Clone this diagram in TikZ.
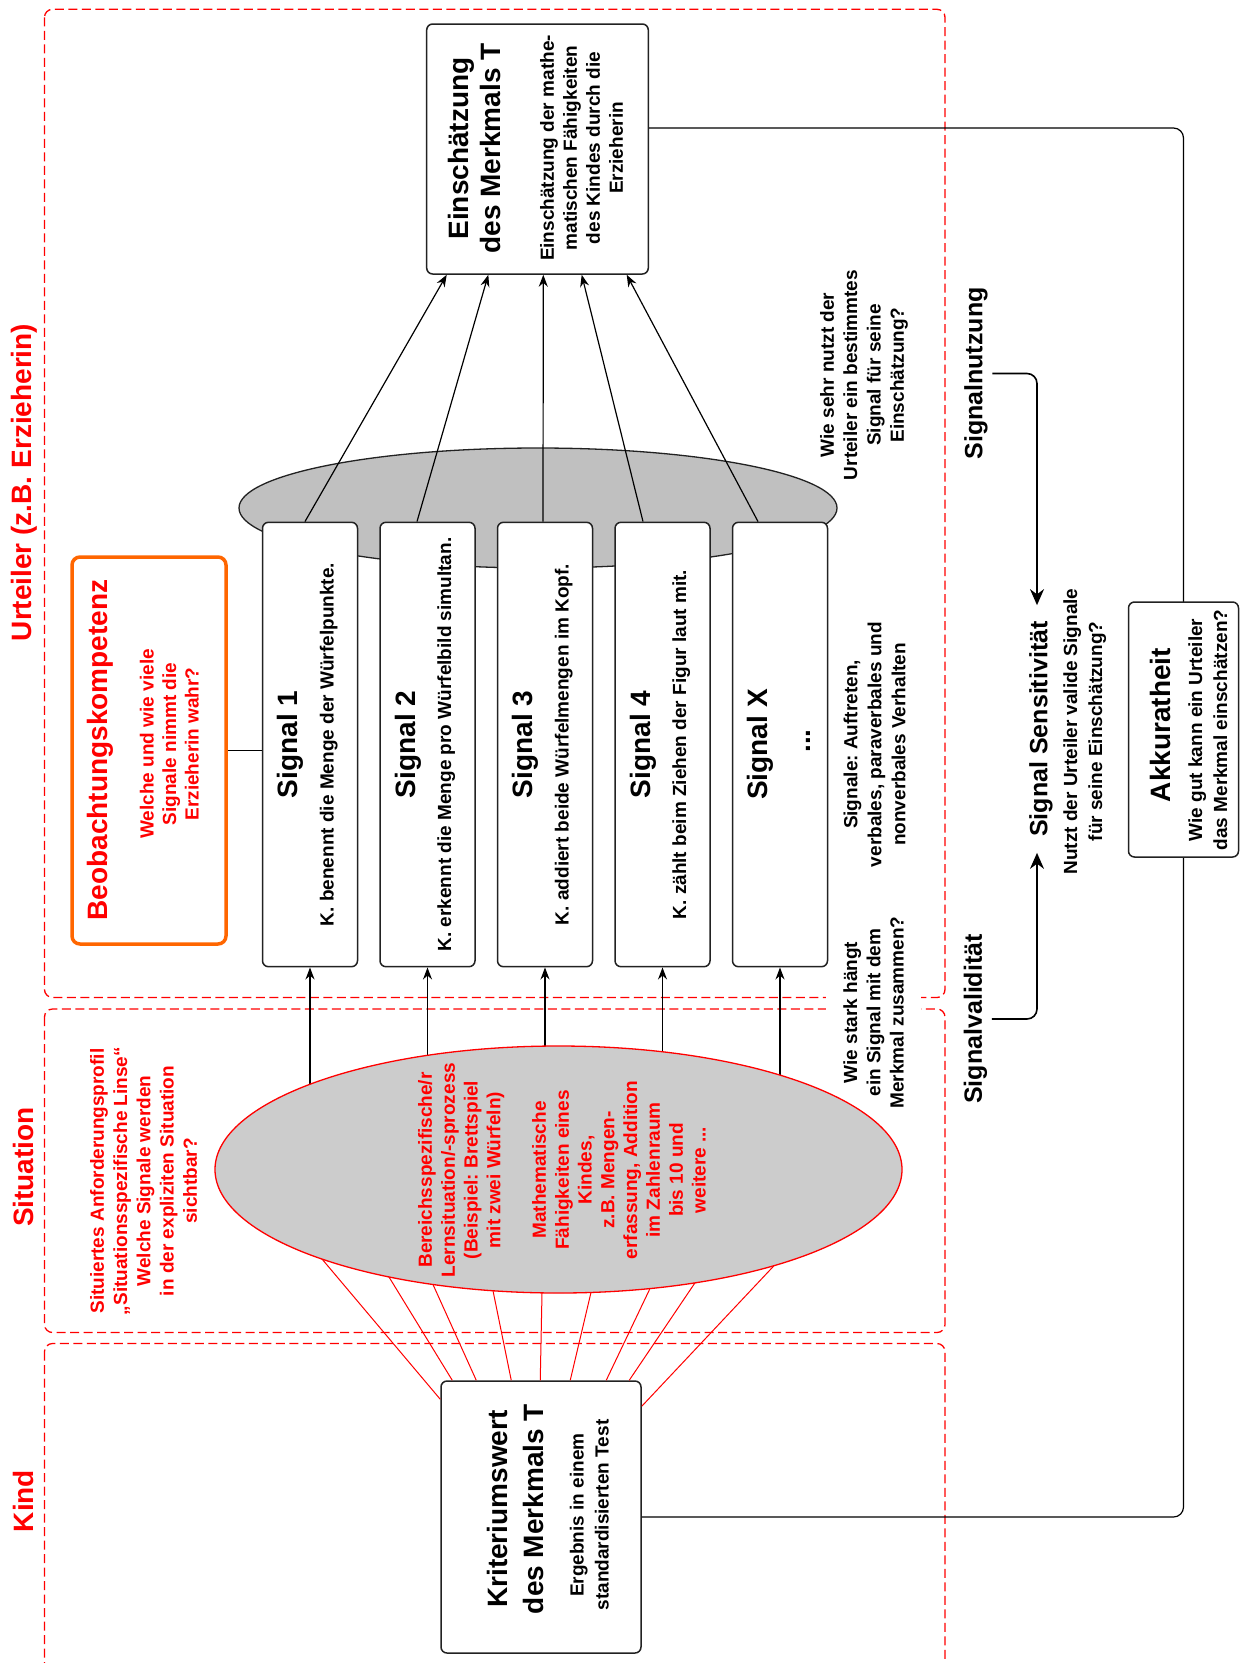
\documentclass[tikz,border=0pt]{standalone}
\usepackage{fontspec}
\setmainfont{Liberation Sans}
\usetikzlibrary{arrows.meta,shapes.geometric,calc}
\definecolor{zonered}{HTML}{FF0000}
\definecolor{textred}{HTML}{FF0000}
\definecolor{comporange}{HTML}{FF6600}
\definecolor{cuegray}{HTML}{C0C0C0}
\definecolor{sitgray}{HTML}{CCCCCC}
\definecolor{edge}{HTML}{222222}
\newcommand{\setfs}[2]{\fontsize{#1}{#2}\selectfont}
\frenchspacing
\begin{document}
\begin{tikzpicture}[x=1pt,y=-1pt,
  zone/.style={draw=zonered,line width=1.3pt,dash pattern=on 9pt off 4.5pt,rounded corners=8pt},
  card/.style={draw=edge,line width=1.5pt,fill=white,rounded corners=6pt,inner sep=0pt},
  vtext/.style={rotate=90,align=center,inner sep=0pt,execute at begin node=\frenchspacing},
  bigtxt/.style={vtext,font=\bfseries\setfs{28}{32}},
  midtxt/.style={vtext,font=\bfseries\setfs{25}{30}},
  smalltxt/.style={vtext,font=\bfseries\setfs{19}{#1}},
  smalltxt/.default=23,
  conn/.style={draw=black,line width=1.2pt},
  arrowline/.style={conn,-{Stealth[length=12pt,width=9pt]}},
  bigarrow/.style={draw=black,line width=1.6pt,rounded corners=10pt,-{Stealth[length=16pt,width=14pt]}},
  cueline/.style={draw=zonered,line width=1pt}
]
\useasboundingbox (0,0) rectangle (1243,1663);
\clip (0,0) rectangle (1243,1663);

% ---- the three zones ----
\draw[zone] (44.5,9.3) rectangle (945,997.5);
\draw[zone] (44.5,1009) rectangle (945,1332.5);
\draw[zone] (44.5,1343.5) rectangle (945,1720);

\node[bigtxt,text=textred] (hdU) at (24.5,482.5) {Urteiler (z.B. Erzieherin)};
\node[bigtxt,text=textred] (hdS) at (23,1167) {Situation};
\node[bigtxt,text=textred] (hdK) at (23,1501) {Kind};

% question sitting on the border between the zones
\node[smalltxt=23.3,fill=white,inner xsep=3pt,inner ysep=17.5pt] (qval) at (873.6,1012.5)
  {Wie stark hängt\\ein Signal mit dem\\Merkmal zusammen?};

% ---- cue ellipse and signal cards ----
\node[ellipse,draw=edge,fill=cuegray,line width=1.3pt,minimum width=598pt,minimum height=120pt,inner sep=0pt] (cue) at (538,508) {};
\foreach \i/\x in {1/310,2/427.5,3/545,4/662.5,X/780}
  \node[card,minimum width=95pt,minimum height=444.4pt] (s\i) at (\x,744.5) {};

\node[bigtxt] (s1h) at ($(s1.center)+(-19.2,0)$) {Signal 1};
\node[bigtxt] (s2h) at ($(s2.center)+(-19.2,0)$) {Signal 2};
\node[bigtxt] (s3h) at ($(s3.center)+(-19.2,0)$) {Signal 3};
\node[bigtxt] (s4h) at ($(s4.center)+(-19.2,0)$) {Signal 4};
\node[bigtxt] (sXh) at ($(sX.center)+(-19.2,0)$) {Signal X};
\node[smalltxt] (s1b) at ($(s1.center)+(18.7,0)$) {K. benennt die Menge der Würfelpunkte.};
\node[smalltxt] (s2b) at ($(s2.center)+(18.7,0)$) {K. erkennt die Menge pro Würfelbild simultan.};
\node[smalltxt] (s3b) at ($(s3.center)+(18.7,0)$) {K. addiert beide Würfelmengen im Kopf.};
\node[smalltxt] (s4b) at ($(s4.center)+(18.7,0)$) {K. zählt beim Ziehen der Figur laut mit.};
\node[bigtxt] (sXb) at ($(sX.center)+(28,-3.5)$) {...};

% ---- judgement box ----
\node[card,minimum width=221.6pt,minimum height=250pt] (E) at (537.5,149) {};
\node[bigtxt] (Eh) at (474,148.5) {Einschätzung\\des Merkmals T};
\node[smalltxt] (Eb) at (581.5,148) {Einschätzung der mathe-\\matischen Fähigkeiten\\des Kindes durch die\\Erzieherin};

\draw[arrowline] ($(s1.north)+(-5,0)$) -- ($(E.south)+(-90.8,0)$);
\draw[arrowline] ($(s2.north)+(-10.5,0)$) -- ($(E.south)+(-49.2,0)$);
\draw[arrowline] ($(s3.north)+(-2,0)$) -- ($(E.south)+(5.8,0)$);
\draw[arrowline] ($(s4.north)+(-19.5,0)$) -- ($(E.south)+(44.2,0)$);
\draw[arrowline] ($(sX.north)+(-22,0)$) -- ($(E.south)+(89.2,0)$);

% ---- observation competence ----
\node[draw=comporange,line width=3.5pt,fill=white,rounded corners=8pt,minimum width=154pt,minimum height=387pt,inner sep=0pt] (B) at (149,750.5) {};
\node[bigtxt,text=textred] (Bh) at (100.8,750) {Beobachtungskompetenz};
\node[smalltxt=22.5,text=textred] (Bb) at (169.3,744) {Welche und wie viele\\Signale nimmt die\\Erzieherin wahr?};
\draw[conn] (B.east) -- (B.east -| s1.west);

% ---- situation ----
\node[smalltxt=23.3,text=textred] (sitq) at (143.6,1181)
  {Situiertes Anforderungsprofil\\„Situationsspezifische Linse“\\Welche Signale werden\\in der expliziten Situation\\sichtbar?};

\coordinate (sitc) at (558.5,1169.5);
\foreach \i in {1,2,3,4,X}
  \draw[arrowline] (s\i.south |- sitc) -- (s\i.south);

% ---- criterion box and its links to the situation ----
\node[card,minimum width=200pt,minimum height=272pt] (K) at (541,1517) {};
\node[bigtxt,font=\bfseries\setfs{28}{36}] (Kh) at (515,1509) {Kriteriumswert\\des Merkmals T};
\node[smalltxt=25] (Kb) at (589.3,1515) {Ergebnis in einem\\standardisierten Test};

\coordinate (k1) at ([yshift=-19pt]K.north west);
\coordinate (k2) at ($(K.north west)+(12,0)$);
\coordinate (k3) at ($(K.north west)+(36,0)$);
\coordinate (k4) at ($(K.north west)+(71,0)$);
\coordinate (k5) at ($(K.north west)+(100,0)$);
\coordinate (k6) at ($(K.north west)+(130,0)$);
\coordinate (k7) at ($(K.north west)+(166,0)$);
\coordinate (k8) at ($(K.north west)+(189,0)$);
\coordinate (k9) at ([yshift=-26pt]K.north east);
\coordinate (e1) at (322,1259);
\coordinate (e2) at (389,1277);
\coordinate (e3) at (433,1284.5);
\coordinate (e4) at (493,1290.7);
\coordinate (e5) at (542,1293);
\coordinate (e6) at (591,1292.4);
\coordinate (e7) at (650,1288.5);
\coordinate (e8) at (695,1282.8);
\coordinate (e9) at (774,1265.7);
\foreach \j in {1,...,9}
  \draw[cueline] (k\j) -- ($(k\j)!1.05!(e\j)$);

\node[ellipse,draw=zonered,fill=sitgray,line width=1.3pt,minimum width=687pt,minimum height=247pt,inner sep=0pt] (sit) at (sitc) {};
\node[smalltxt=22.8,text=textred] (sitt) at (562,1170)
  {Bereichsspezifische/r\\Lernsituation/-sprozess\\(Beispiel: Brettspiel\\mit zwei Würfeln)\\[22.8pt]Mathematische\\Fähigkeiten eines\\Kindes,\\z.B. Mengen-\\erfassung, Addition\\im Zahlenraum\\bis 10 und\\weitere ...};

% ---- right-hand side: utilisation, validity, sensitivity ----
\node[smalltxt=23.3] (quse) at (864,375) {Wie sehr nutzt der\\Urteiler ein bestimmtes\\Signal für seine\\Einschätzung?};
\node[smalltxt=24] (qsig) at (874.5,744.5) {Signale: Auftreten,\\verbales, paraverbales und\\nonverbales Verhalten};
\node[midtxt,inner sep=4.5pt] (nutz) at (976,373.5) {Signalnutzung};
\node[midtxt,inner sep=4.5pt] (val) at (975.5,1019) {Signalvalidität};
\node[midtxt,inner xsep=16pt] (sens) at (1041,729) {Signal Sensitivität};
\node[smalltxt=25] (sensq) at (1084.8,731.5) {Nutzt der Urteiler valide Signale\\für seine Einschätzung?};
\draw[bigarrow] (nutz.south) -| ([xshift=-4pt]sens.east);
\draw[bigarrow] (val.south) -| ([xshift=-4pt]sens.west);

% ---- accuracy: judgement compared with criterion ----
\coordinate (acc) at (1183.5,729.5);
\draw[conn,rounded corners=10pt] ([yshift=21pt]E.east) -| (acc) |- (K.east);
\node[card,minimum width=110pt,minimum height=255pt] (A) at (acc) {};
\node[bigtxt] (Ah) at (1160,725) {Akkuratheit};
\node[smalltxt=25] (Ab) at (1207.7,730) {Wie gut kann ein Urteiler\\das Merkmal einschätzen?};
\end{tikzpicture}
\end{document}
